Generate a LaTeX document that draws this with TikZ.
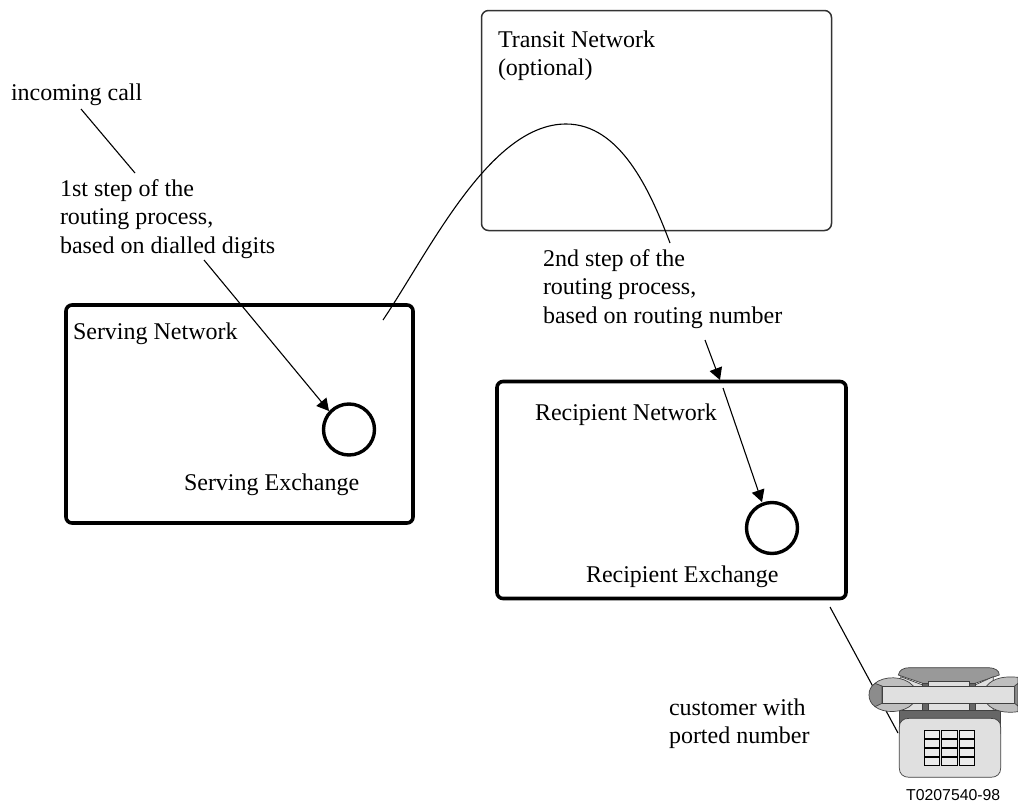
\documentclass[tikz,border=0pt]{standalone}
\usepackage{fontspec}
\setmainfont{Liberation Serif}
\newfontfamily\hv{Liberation Sans}
\usetikzlibrary{arrows.meta}
\tikzset{
  x=1pt,y=-1pt,
  lab/.style={inner sep=0pt,outer sep=0pt,anchor=west,font=\fontsize{24}{28.4}\selectfont,align=left},
  thinbox/.style={draw=black!80,line width=1.5pt,rounded corners=7pt,outer sep=0pt},
  thickbox/.style={draw=black,line width=3.6pt,rounded corners=6pt,outer sep=0pt},
  exch/.style={circle,draw=black,line width=3.4pt,minimum size=51pt,inner sep=0pt},
  conn/.style={line width=1.1pt},
  arr/.style={line width=1.1pt,-{Triangle[length=12pt,width=13pt]}},
  ph/.style={draw=black!75,line width=.7pt},
  key/.style={draw=black,line width=.8pt,fill=black!8}
}
\begin{document}
\begin{tikzpicture}
\useasboundingbox (0,0) rectangle (1018,803);
\node[thinbox,minimum width=350pt,minimum height=220pt,anchor=north west] (transit) at (481.5,10.5) {};
\node[thickbox,minimum width=347pt,minimum height=218pt,anchor=north west] (serving) at (66,305) {};
\node[thickbox,minimum width=349pt,minimum height=217pt,anchor=north west] (recipient) at (497,381.5) {};
\node[exch] (sx) at (349,429.5) {};
\node[exch] (rx) at (772,528) {};
\node[lab] (t1) at (498,56) {Transit Network\\(optional)};
\node[lab] (inc) at (11,95) {incoming call};
\node[lab] (step1) at (60,219) {1st step of the\\routing process,\\based on dialled digits};
\node[lab] (step2) at (543,289) {2nd step of the\\routing process,\\based on routing number};
\node[lab] (sn) at (73,334) {Serving Network};
\node[lab] (se) at (184,485) {Serving Exchange};
\node[lab] (rn) at (535,415) {Recipient Network};
\node[lab] (re) at (586,577) {Recipient Exchange};
\node[lab] (cust) at (669,724) {customer with\\ported number};
\node[inner sep=0pt,anchor=west,font=\hv\fontsize{15.8}{17}\selectfont] (code) at (906,795) {T0207540-98};
\coordinate (incE) at (81,109);
\coordinate (incS) at (135,173);
\coordinate (a1) at (204,260);
\coordinate (a1e) at (329,411);
\coordinate (c1) at (383,320);
\coordinate (c2) at (670,243);
\coordinate (a2) at (705,340);
\coordinate (a2e) at (720,380);
\coordinate (a3) at (723,388);
\coordinate (a3e) at (762,502);
\coordinate (pa) at (830,607);
\coordinate (pb) at (898,733);
\draw[conn] (incE) -- (incS);
\draw[arr] (a1) -- (a1e);
\draw[conn] (c1) .. controls (430,250) and (490,124) .. (566,124) .. controls (620,124) and (650,190) .. (c2);
\draw[arr] (a2) -- (a2e);
\draw[arr] (a3) -- (a3e);
\draw[conn] (pa) -- (pb);
% telephone
\begin{scope}[shift={(860,640)},x=.3333pt,y=-.3333pt]
\draw[ph,fill=black!40] (115,105) .. controls (118,90) and (130,83) .. (150,83) -- (385,83) .. controls (405,83) and (418,92) .. (418,105) -- (345,130) -- (345,240) -- (188,240) -- (188,130) -- cycle;
\draw[ph,fill=black!12] (122,110) -- (188,135) -- (188,212) -- (345,212) -- (345,135) -- (400,110) -- (400,212) -- (122,212) -- cycle;
\draw[ph,fill=black!60] (118,212) rectangle (422,280);
\draw[ph,fill=black!60] (188,130) rectangle (206,212) (327,130) rectangle (345,212);
\draw[ph,fill=black!12] (206,124) rectangle (327,212);
\draw[ph,fill=black!12] (118,262) .. controls (118,243) and (130,235) .. (148,235) -- (392,235) .. controls (410,235) and (422,243) .. (422,262) -- (422,385) .. controls (422,402) and (410,412) .. (392,412) -- (148,412) .. controls (130,412) and (118,402) .. (118,385) -- cycle;
% handset
\draw[ph,fill=black!25] (45,130) .. controls (70,108) and (130,105) .. (160,138) -- (160,190) .. controls (130,222) and (70,220) .. (45,200) -- cycle;
\draw[ph,fill=black!45] (45,130) -- (66,138) -- (66,190) -- (45,200) .. controls (32,190) and (27,178) .. (27,165) .. controls (27,150) and (32,140) .. (45,130) -- cycle;
\draw[ph,fill=black!25] (380,138) .. controls (400,112) and (440,108) .. (474,112) -- (474,215) .. controls (440,220) and (400,215) .. (380,190) -- cycle;
\draw[ph,fill=black!12] (66,138) rectangle (464,190);
\draw[ph,fill=black!45] (464,138) -- (474,130) -- (474,198) -- (464,190) -- cycle;
\foreach \kx in {192,245,298}{
  \foreach \ky in {271,298,325,351}{
    \draw[key] (\kx,\ky) rectangle ++(46,25);
  }
}
\end{scope}
\end{tikzpicture}
\end{document}
